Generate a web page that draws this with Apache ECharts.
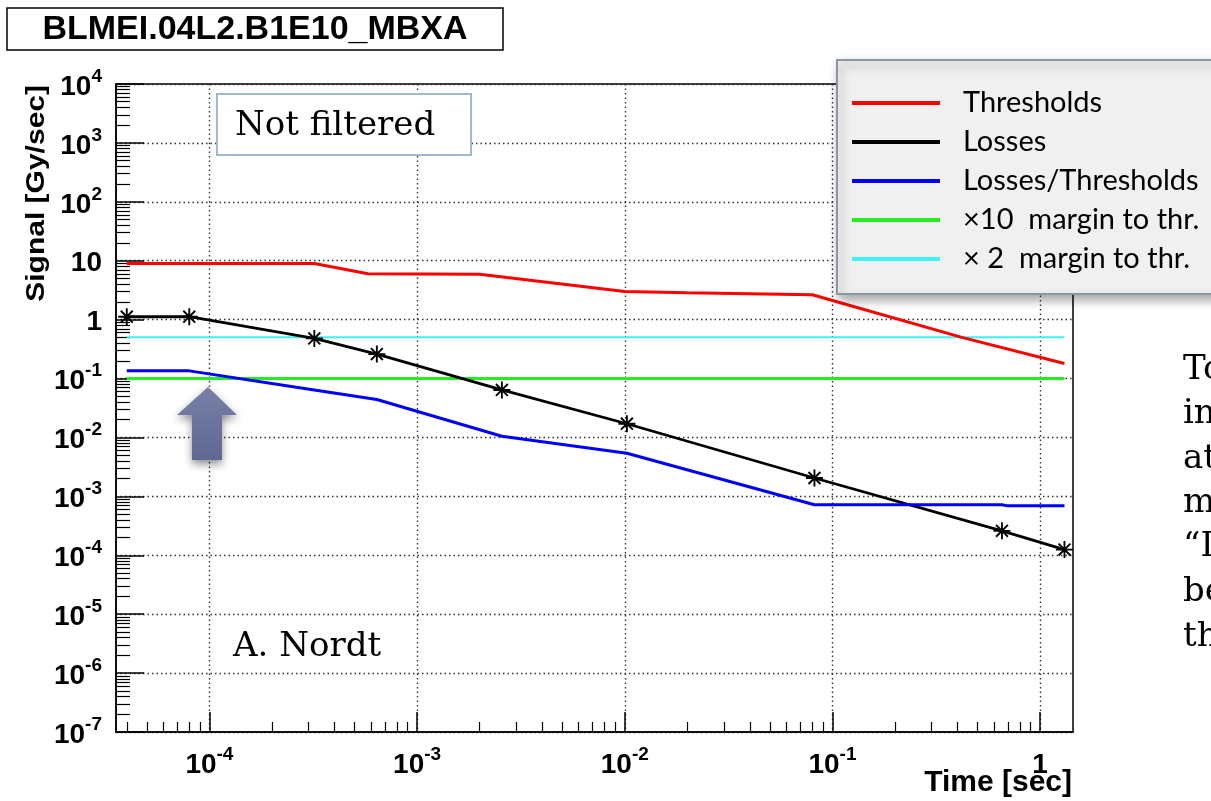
<!DOCTYPE html>
<html>
<head>
<meta charset="utf-8">
<script src="https://cdn.jsdelivr.net/npm/echarts@6/dist/echarts.min.js"></script>
<style>
html, body { margin: 0; padding: 0; background: #fff; }
#chart { width: 1211px; height: 801px; }
</style>
</head>
<body>
<div id="chart"></div>
<script>
// running sum integration times [sec] and values [Gy/sec]
const threshTimes = [4e-5, 3.2e-4, 5.8e-4, 2.0e-3, 1.0e-2, 2.0e-2, 8.0e-2, 0.42, 1.31];
const threshValues = [9.0, 9.0, 6.0, 5.9, 3.0, 2.85, 2.65, 0.5, 0.18];

const lossTimes = [4e-5, 8e-5, 3.2e-4, 6.4e-4, 2.56e-3, 1.024e-2, 8.192e-2, 0.655, 1.31];
const lossValues = [1.12, 1.12, 0.48, 0.26, 0.064, 0.0171, 2.05e-3, 2.6e-4, 1.25e-4];

const ratioTimes = [4e-5, 8e-5, 3.2e-4, 6.4e-4, 2.56e-3, 1.024e-2, 8.192e-2, 0.655, 0.7, 1.31];
const ratioValues = [0.135, 0.135, 0.064, 0.044, 0.0105, 5.4e-3, 7.2e-4, 7.2e-4, 6.9e-4, 6.9e-4];

const marginTimes = [4e-5, 1.31];
const margin10Values = [0.1, 0.1];
const margin2Values = [0.5, 0.5];

// axes
const xTickValues = [1e-4, 1e-3, 1e-2, 1e-1, 1];
const xTickLabels = [['10', '-4'], ['10', '-3'], ['10', '-2'], ['10', '-1'], ['1', '']];
const yTickValues = [1e-7, 1e-6, 1e-5, 1e-4, 1e-3, 1e-2, 1e-1, 1, 10, 1e2, 1e3, 1e4];
const yTickLabels = [['10', '-7'], ['10', '-6'], ['10', '-5'], ['10', '-4'], ['10', '-3'], ['10', '-2'],
    ['10', '-1'], ['1', ''], ['10', ''], ['10', '2'], ['10', '3'], ['10', '4']];
const minorMantissas = [2, 3, 4, 5, 6, 7, 8, 9];

const xMin = 3.55e-5, xMax = 1.44, yMin = 1e-7, yMax = 1e4;

function pairs(ts, vs) {
    return ts.map((t, i) => [t, vs[i]]);
}

function minorTicks(lo, hi) {
    let out = [];
    for (let k = Math.floor(Math.log10(lo)); k <= Math.ceil(Math.log10(hi)); k++) {
        minorMantissas.forEach(m => {
            let v = m * Math.pow(10, k);
            if (v >= lo && v <= hi) out.push(v);
        });
    }
    return out;
}

function tickLabel(values, labels) {
    return function (v) {
        for (let i = 0; i < values.length; i++) {
            if (Math.abs(Math.log10(v) - Math.log10(values[i])) < 0.01) {
                let b = labels[i][0], e = labels[i][1];
                return e ? '{b|' + b + '}{e|' + e + '}' : '{b|' + b + '}';
            }
        }
        return '';
    };
}

const labelRich = {
    b: { fontSize: 28, fontWeight: 'bold', fontFamily: 'Liberation Sans', color: '#000', lineHeight: 34, verticalAlign: 'bottom' },
    e: { fontSize: 19, fontWeight: 'bold', fontFamily: 'Liberation Sans', color: '#000', lineHeight: 19, verticalAlign: 'top' }
};

const gridLine = { show: true, lineStyle: { color: '#333', width: 1.4, type: [1.5, 3] } };
const axisLine = { show: true, onZero: false, lineStyle: { color: '#000', width: 1.5 } };

// asterisk marker (ROOT style 3)
const star = 'path://M-10,-1.1L10,-1.1L10,1.1L-10,1.1Z M-1.1,-10L1.1,-10L1.1,10L-1.1,10Z M-6.2,-7.8L7.8,6.2L6.2,7.8L-7.8,-6.2Z M-7.8,6.2L6.2,-7.8L7.8,-6.2L-6.2,7.8Z';

const serif = '"DejaVu Serif", serif';
const sideText = ['To', 'in', 'at', 'm', '\u201cI', 'be', 'th'];
const sideY = [370, 414, 459, 503, 547, 592, 637];

let chart = echarts.init(document.getElementById('chart'));

let options = {
    animation: false,
    backgroundColor: '#fff',
    grid: {
        left: 116, right: 138, top: 84, bottom: 69,
        containLabel: false, outerBoundsMode: 'none',
        show: true, borderColor: '#000', borderWidth: 1.5, backgroundColor: '#fff'
    },
    legend: {
        orient: 'vertical',
        left: 837, top: 60,
        padding: [28, 40, 20, 15],
        itemWidth: 88, itemHeight: 4, itemGap: 9,
        icon: 'rect',
        selectedMode: false,
        backgroundColor: '#f0f0f0',
        borderColor: '#8c95a8', borderWidth: 2,
        shadowBlur: 10, shadowColor: 'rgba(0,0,0,0.35)', shadowOffsetX: 3, shadowOffsetY: 5,
        textStyle: { fontFamily: 'Lato', fontSize: 29, color: '#000', lineHeight: 30, padding: [0, 0, 0, 18] },
        data: ['Thresholds', 'Losses', 'Losses/Thresholds', '×10  margin to thr.', '× 2  margin to thr.']
    },
    xAxis: [{
        type: 'log', min: xMin, max: xMax, logBase: 10,
        axisLine: axisLine,
        axisTick: { show: true, inside: true, length: 20, customValues: xTickValues, lineStyle: { color: '#000', width: 1.5 } },
        axisLabel: { show: true, customValues: xTickValues, margin: 13, formatter: tickLabel(xTickValues, xTickLabels), rich: labelRich },
        splitLine: gridLine
    }, {
        type: 'log', min: xMin, max: xMax, logBase: 10, position: 'bottom', offset: 0,
        axisLine: { show: false },
        axisTick: { show: true, inside: true, length: 10, customValues: minorTicks(xMin, xMax), lineStyle: { color: '#000', width: 1.2 } },
        axisLabel: { show: false },
        splitLine: { show: false }
    }],
    yAxis: [{
        type: 'log', min: yMin, max: yMax, logBase: 10,
        axisLine: axisLine,
        axisTick: { show: true, inside: true, length: 28, customValues: yTickValues, lineStyle: { color: '#000', width: 1.5 } },
        axisLabel: { show: true, customValues: yTickValues, margin: 14, formatter: tickLabel(yTickValues, yTickLabels), rich: labelRich },
        splitLine: gridLine
    }, {
        type: 'log', min: yMin, max: yMax, logBase: 10, position: 'left', offset: 0,
        axisLine: { show: false },
        axisTick: { show: true, inside: true, length: 14, customValues: minorTicks(yMin, yMax), lineStyle: { color: '#000', width: 1.2 } },
        axisLabel: { show: false },
        splitLine: { show: false }
    }],
    series: [{
        name: '×10  margin to thr.', type: 'line', data: pairs(marginTimes, margin10Values),
        color: '#22ee22', lineStyle: { width: 3 }, symbol: 'none'
    }, {
        name: '× 2  margin to thr.', type: 'line', data: pairs(marginTimes, margin2Values),
        color: '#3ef2f2', lineStyle: { width: 2 }, symbol: 'none'
    }, {
        name: 'Thresholds', type: 'line', data: pairs(threshTimes, threshValues),
        color: '#ff0000', lineStyle: { width: 3 }, symbol: 'none'
    }, {
        name: 'Losses', type: 'line', data: pairs(lossTimes, lossValues),
        color: '#000', lineStyle: { width: 2.8 }, symbol: star, symbolSize: 17, showSymbol: true,
        itemStyle: { color: '#000' }
    }, {
        name: 'Losses/Thresholds', type: 'line', data: pairs(ratioTimes, ratioValues),
        color: '#0000ff', lineStyle: { width: 3 }, symbol: 'none'
    }],
    graphic: [
        // histogram title box
        { type: 'rect', shape: { x: 7, y: 8, width: 496, height: 42 }, style: { fill: '#fff', stroke: '#000', lineWidth: 1.5 } },
        { type: 'text', x: 255, y: 30, style: { text: 'BLMEI.04L2.B1E10_MBXA', font: 'bold 34px "Liberation Sans"', fill: '#000', align: 'center', verticalAlign: 'middle' } },
        // axis titles
        { type: 'text', x: 37, y: 85, rotation: Math.PI / 2, scaleX: 1.2,
          style: { text: 'Signal [Gy/sec]', font: 'bold 25px "Liberation Sans"', fill: '#000', align: 'right', verticalAlign: 'middle' } },
        { type: 'text', x: 1072, y: 783, style: { text: 'Time [sec]', font: 'bold 30px "Liberation Sans"', fill: '#000', align: 'right', verticalAlign: 'middle' } },
        // slide annotations
        { type: 'rect', z: 10, shape: { x: 217, y: 94, width: 254, height: 61 }, style: { fill: '#fff', stroke: '#9bbcc8', lineWidth: 2 } },
        { type: 'text', z: 11, x: 235, y: 126, style: { text: 'Not filtered', font: '34px ' + serif, fill: '#000', verticalAlign: 'middle' } },
        { type: 'text', z: 11, x: 233, y: 647, style: { text: 'A. Nordt', font: '34px ' + serif, fill: '#000', verticalAlign: 'middle' } },
        { type: 'polygon', z: 10,
          shape: { points: [[208, 387], [237, 415], [222, 415], [222, 460], [192, 460], [192, 415], [177, 415]] },
          style: {
              fill: new echarts.graphic.LinearGradient(0, 0, 0, 1, [{ offset: 0, color: '#7880a8' }, { offset: 1, color: '#5f6891' }]),
              shadowBlur: 8, shadowColor: 'rgba(0,0,0,0.45)', shadowOffsetY: 4
          } }
    ].concat(sideText.map((s, i) => ({
        type: 'text', z: 11, x: 1183, y: sideY[i],
        style: { text: s, font: '34px ' + serif, fill: '#000', verticalAlign: 'middle' }
    })))
};

chart.setOption(options);
</script>
</body>
</html>
